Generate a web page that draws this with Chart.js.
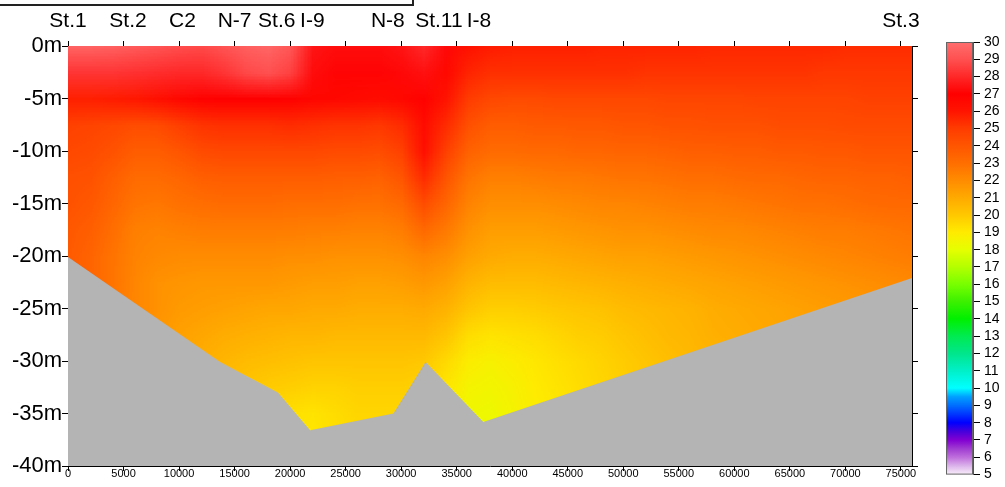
<!DOCTYPE html>
<html>
<head>
<meta charset="utf-8">
<script src="https://cdn.jsdelivr.net/npm/chart.js@4.4.1/dist/chart.umd.min.js"></script>
<style>
  html, body { margin: 0; padding: 0; background: #fff; }
  #wrap { position: relative; width: 1005px; height: 487px; }
  #main { position: absolute; left: 0; top: 0; width: 1005px; height: 487px; }
  #bar { position: absolute; left: 930px; top: 0; width: 75px; height: 487px; }
</style>
</head>
<body>
<div id="wrap">
  <div id="main"><canvas id="chart"></canvas></div>
  <div id="bar"><canvas id="cbar"></canvas></div>
</div>
<script>
// stations along the section (distance in m)
const stationNames = ['St.1', 'St.2', 'C2', 'N-7', 'St.6', 'I-9', 'N-8', 'St.11', 'I-8', 'St.3'];
const stationX = [0, 5400, 10300, 15000, 18800, 22000, 28800, 33400, 37000, 75000];

// distance ticks
const xTickVals = [0, 5000, 10000, 15000, 20000, 25000, 30000, 35000, 40000, 45000, 50000, 55000, 60000, 65000, 70000, 75000];

// sea bottom profile
const bottomX = [0, 13700, 18900, 21800, 29300, 32200, 37400, 76000];
const bottomY = [-20.1, -30.1, -33.0, -36.6, -35.0, -30.1, -35.8, -22.1];

// grid of temperature (degC): columns = distance, rows = depth
const gridX = [0, 2000, 4000, 6000, 8000, 10000, 12000, 14000, 16000, 18000, 20000, 22000, 24000, 26000,
  28000, 30000, 32000, 34000, 36000, 38000, 40000, 42000, 44000, 46000, 48000, 50000, 52000, 54000,
  56000, 58000, 60000, 62000, 64000, 66000, 68000, 70000, 72000, 74000, 76000];
const gridDepth = [0, 2.5, 5, 7.5, 10, 12.5, 15, 17.5, 20, 22.5, 25, 27.5, 30, 32.5, 35, 37.5];
const tempGrid = [
  [29.6,29.6,29.5,29.3,29.1,28.9,28.8,29.1,29.5,29.7,29.2,27.5,27.3,27.3,27.3,27.5,28.0,27.2,26.1,25.8,25.7,25.7,25.7,25.7,25.6,25.6,25.6,25.6,25.6,25.5,25.5,25.5,25.5,25.5,25.5,25.4,25.4,25.4,25.4],
  [28.3,28.3,28.3,28.2,28.1,28.0,28.0,28.3,28.8,29.0,28.6,27.3,27.1,27.1,27.1,27.2,27.4,26.6,25.6,25.3,25.3,25.3,25.3,25.3,25.3,25.3,25.2,25.2,25.2,25.2,25.2,25.2,25.2,25.2,25.1,25.1,25.1,25.1,25.1],
  [25.7,25.7,25.8,25.9,26.2,26.6,26.9,27.0,27.0,27.0,26.9,26.7,26.6,26.5,26.4,26.6,26.9,26.0,25.0,24.5,24.4,24.4,24.5,24.5,24.5,24.5,24.5,24.6,24.6,24.6,24.6,24.7,24.7,24.7,24.7,24.7,24.8,24.8,24.8],
  [24.8,24.7,24.5,24.3,24.4,24.9,25.2,25.3,25.3,25.3,25.4,25.3,25.2,25.2,25.1,25.4,26.4,25.4,24.2,23.7,23.7,23.8,23.8,23.9,23.9,24.0,24.0,24.1,24.1,24.2,24.2,24.2,24.3,24.3,24.3,24.4,24.4,24.4,24.4],
  [24.5,24.4,24.1,23.7,23.7,24.0,24.4,24.5,24.5,24.5,24.5,24.5,24.4,24.4,24.3,24.8,26.2,24.8,23.5,23.1,23.1,23.2,23.2,23.3,23.3,23.4,23.4,23.5,23.6,23.6,23.7,23.7,23.8,23.8,23.9,23.9,24.0,24.0,24.0],
  [24.2,24.1,23.6,23.1,23.1,23.3,23.6,23.7,23.7,23.7,23.7,23.7,23.6,23.6,23.5,24.0,25.4,24.0,22.8,22.4,22.4,22.5,22.6,22.6,22.7,22.8,22.8,22.9,23.0,23.0,23.1,23.2,23.2,23.3,23.4,23.4,23.5,23.5,23.6],
  [24.1,23.9,23.3,22.8,22.7,22.9,23.0,23.1,23.1,23.1,23.0,23.0,23.0,22.9,22.9,23.2,24.3,23.3,22.3,21.9,21.9,21.9,22.0,22.1,22.2,22.2,22.3,22.4,22.5,22.5,22.6,22.7,22.8,22.9,22.9,23.0,23.1,23.2,23.2],
  [23.9,23.6,23.0,22.4,22.3,22.4,22.5,22.5,22.5,22.5,22.5,22.4,22.4,22.3,22.3,22.5,23.2,22.6,21.8,21.4,21.4,21.4,21.5,21.6,21.7,21.8,21.8,21.9,22.0,22.1,22.1,22.2,22.3,22.4,22.5,22.5,22.6,22.7,22.8],
  [23.8,23.4,22.8,22.3,22.1,22.0,22.0,22.0,22.0,22.0,21.9,21.9,21.8,21.8,21.8,21.9,22.2,21.9,21.3,21.0,20.9,20.9,21.0,21.1,21.2,21.3,21.3,21.4,21.5,21.6,21.7,21.8,21.9,22.0,22.1,22.2,22.3,22.4,22.5],
  [23.7,23.3,22.8,22.2,21.8,21.7,21.6,21.6,21.6,21.6,21.5,21.4,21.4,21.3,21.3,21.4,21.6,21.3,20.7,20.4,20.4,20.4,20.5,20.6,20.7,20.8,20.9,21.0,21.1,21.2,21.3,21.4,21.5,21.6,21.7,21.8,21.9,22.0,22.1],
  [23.5,23.1,22.6,22.2,21.8,21.5,21.4,21.3,21.2,21.1,21.1,21.0,21.0,20.9,20.9,20.9,21.0,20.7,20.1,19.8,19.8,19.9,20.0,20.1,20.2,20.4,20.5,20.6,20.7,20.9,21.0,21.1,21.2,21.3,21.4,21.5,21.6,21.7,21.8],
  [23.3,22.9,22.4,22.0,21.6,21.3,21.1,20.9,20.8,20.7,20.6,20.6,20.5,20.5,20.5,20.5,20.5,20.1,19.4,19.2,19.3,19.4,19.6,19.8,19.9,20.1,20.3,20.5,20.6,20.8,20.9,21.0,21.1,21.2,21.3,21.4,21.5,21.6,21.7],
  [23.1,22.7,22.2,21.8,21.4,21.1,20.8,20.6,20.4,20.3,20.2,20.1,20.1,20.1,20.1,20.1,20.0,19.5,18.9,18.7,18.9,19.1,19.3,19.5,19.7,19.9,20.1,20.3,20.5,20.6,20.8,20.9,21.0,21.1,21.2,21.3,21.4,21.5,21.6],
  [23.0,22.6,22.1,21.6,21.2,20.9,20.6,20.3,20.1,19.9,19.8,19.7,19.7,19.8,19.8,19.8,19.7,19.1,18.6,18.5,18.7,19.0,19.2,19.4,19.6,19.8,20.0,20.2,20.4,20.5,20.7,20.8,20.9,21.0,21.1,21.2,21.3,21.4,21.5],
  [22.9,22.5,22.0,21.5,21.1,20.8,20.5,20.2,19.9,19.6,19.3,19.2,19.4,19.6,19.6,19.6,19.4,18.9,18.4,18.3,18.6,18.9,19.1,19.3,19.5,19.7,19.9,20.1,20.3,20.4,20.6,20.7,20.8,20.9,21.0,21.1,21.2,21.3,21.4],
  [22.8,22.4,21.9,21.4,21.0,20.7,20.4,20.1,19.8,19.5,19.2,19.1,19.3,19.5,19.5,19.5,19.3,18.8,18.3,18.2,18.5,18.8,19.0,19.2,19.4,19.6,19.8,20.0,20.2,20.3,20.5,20.6,20.7,20.8,20.9,21.0,21.1,21.2,21.3]
];

// colour scale
const cbVals = [5, 5.5, 6, 6.5, 7, 7.5, 8, 9, 9.5, 10, 11, 12, 13, 14, 15, 16, 17, 18, 19, 20, 21, 22, 23, 24, 25, 26, 27, 28, 29, 30];
const cbColors = ['#faf0fa', '#dcb4eb', '#be6edc', '#a03cd2', '#8200d2', '#4600dc', '#0000ff', '#006eff', '#00a0ff', '#00ffff',
  '#00f0c8', '#00e68c', '#00eb50', '#00f000', '#3cf000', '#78ff00', '#b4ff00', '#e6ff00', '#ffeb00', '#ffc800',
  '#ffaa00', '#ff8c00', '#ff6e00', '#ff5500', '#ff3c00', '#ff1400', '#ff0000', '#ff2828', '#ff5050', '#ff6e6e'];

const FONT = '"Liberation Sans", Arial, sans-serif';

function hexRgb(h) {
  return [parseInt(h.slice(1, 3), 16), parseInt(h.slice(3, 5), 16), parseInt(h.slice(5, 7), 16)];
}
const cbRgb = cbColors.map(hexRgb);

function tempColor(t) {
  if (t <= cbVals[0]) return cbRgb[0];
  for (let i = 1; i < cbVals.length; i++) {
    if (t <= cbVals[i]) {
      const f = (t - cbVals[i - 1]) / (cbVals[i] - cbVals[i - 1]);
      const a = cbRgb[i - 1], b = cbRgb[i];
      return [a[0] + (b[0] - a[0]) * f, a[1] + (b[1] - a[1]) * f, a[2] + (b[2] - a[2]) * f];
    }
  }
  return cbRgb[cbRgb.length - 1];
}

// temperature field, one image pixel per grid cell, stretched over the scales
const fieldPlugin = {
  id: 'field',
  beforeDatasetsDraw(chart) {
    const { ctx, chartArea, scales: { x, y } } = chart;
    const nx = gridX.length, ny = gridDepth.length;
    const off = document.createElement('canvas');
    off.width = nx; off.height = ny;
    const octx = off.getContext('2d');
    const img = octx.createImageData(nx, ny);
    for (let j = 0; j < ny; j++) {
      for (let i = 0; i < nx; i++) {
        const c = tempColor(tempGrid[j][i]);
        const k = (j * nx + i) * 4;
        img.data[k] = c[0]; img.data[k + 1] = c[1]; img.data[k + 2] = c[2]; img.data[k + 3] = 255;
      }
    }
    octx.putImageData(img, 0, 0);
    const dx = gridX[1] - gridX[0], dd = gridDepth[1] - gridDepth[0];
    const left = x.getPixelForValue(gridX[0] - dx / 2);
    const right = x.getPixelForValue(gridX[nx - 1] + dx / 2);
    const top = y.getPixelForValue(-(gridDepth[0] - dd / 2));
    const bottom = y.getPixelForValue(-(gridDepth[ny - 1] + dd / 2));
    ctx.save();
    ctx.beginPath();
    ctx.rect(chartArea.left, chartArea.top, chartArea.width, chartArea.height);
    ctx.clip();
    ctx.imageSmoothingEnabled = true;
    ctx.drawImage(off, left, top, right - left, bottom - top);
    ctx.restore();
  }
};

// the cut-off frame in the top left corner
const framePlugin = {
  id: 'frame',
  afterDraw(chart) {
    const ctx = chart.ctx;
    ctx.save();
    ctx.strokeStyle = '#222';
    ctx.lineWidth = 2;
    ctx.strokeRect(-5, -10, 418, 15);
    ctx.restore();
  }
};

const setDistTicks = s => { s.ticks = xTickVals.map(v => ({ value: v })); };

new Chart(document.getElementById('chart'), {
  type: 'line',
  data: {
    datasets: [{
      label: 'bottom',
      data: bottomX.map((x, i) => ({ x: x, y: bottomY[i] })),
      fill: 'start',
      backgroundColor: '#b4b4b4',
      borderWidth: 0,
      pointRadius: 0,
      tension: 0
    }]
  },
  options: {
    responsive: true,
    maintainAspectRatio: false,
    animation: false,
    layout: { padding: 0 },
    plugins: { legend: { display: false }, tooltip: { enabled: false } },
    scales: {
      x: {
        type: 'linear', position: 'bottom', min: 0, max: 76000,
        afterBuildTicks: setDistTicks,
        ticks: {
          autoSkip: false, maxRotation: 0, padding: -4,
          color: '#000', font: { family: FONT, size: 11 },
          callback: v => String(v)
        },
        grid: { drawOnChartArea: false, tickLength: 5, tickColor: '#000' },
        border: { color: '#000' },
        afterFit: s => { s.height = 21; }
      },
      xTop: {
        type: 'linear', position: 'top', min: 0, max: 76000, weight: 0,
        afterBuildTicks: setDistTicks,
        ticks: { display: false },
        grid: { drawOnChartArea: false, tickLength: 5, tickColor: '#000' },
        border: { color: '#000' },
        afterFit: s => { s.height = 5; }
      },
      xSt: {
        type: 'linear', position: 'top', min: 0, max: 76000, weight: 1,
        afterBuildTicks: s => { s.ticks = stationX.map(v => ({ value: v })); },
        ticks: {
          autoSkip: false, maxRotation: 0, padding: -1,
          color: '#000', font: { family: FONT, size: 21 },
          callback: (v, i) => stationNames[i]
        },
        grid: { display: false },
        border: { display: false },
        afterFit: s => { s.height = 41; }
      },
      y: {
        position: 'left', min: -40, max: 0,
        ticks: {
          stepSize: 5, padding: 0, color: '#000', font: { family: FONT, size: 22 },
          callback: v => v + 'm'
        },
        grid: { drawOnChartArea: false, tickLength: 6, tickColor: '#000' },
        border: { color: '#000' },
        afterFit: s => { s.width = 68; }
      },
      y2: {
        position: 'right', min: -40, max: 0,
        ticks: { stepSize: 5, display: false },
        grid: { drawOnChartArea: false, tickLength: 6, tickColor: '#000' },
        border: { color: '#000' },
        afterFit: s => { s.width = 93; }
      }
    }
  },
  plugins: [fieldPlugin, framePlugin]
});

// colour bar
const cbarPlugin = {
  id: 'cbarFill',
  beforeDatasetsDraw(chart) {
    const { ctx, chartArea: a, scales: { y } } = chart;
    const p0 = y.getPixelForValue(cbVals[0]);
    const p1 = y.getPixelForValue(cbVals[cbVals.length - 1]);
    const g = ctx.createLinearGradient(0, p0, 0, p1);
    cbVals.forEach((v, i) => g.addColorStop((y.getPixelForValue(v) - p0) / (p1 - p0), cbColors[i]));
    ctx.save();
    ctx.fillStyle = g;
    ctx.fillRect(a.left, p1, a.width, p0 - p1);
    ctx.strokeStyle = '#666';
    ctx.lineWidth = 1;
    ctx.strokeRect(a.left + 0.5, p1 + 0.5, a.width - 1, p0 - p1 - 1);
    ctx.restore();
  }
};

new Chart(document.getElementById('cbar'), {
  type: 'bar',
  data: { labels: [''], datasets: [] },
  options: {
    responsive: true,
    maintainAspectRatio: false,
    animation: false,
    layout: { padding: { left: 16, top: 42, bottom: 9, right: 0 } },
    plugins: { legend: { display: false }, tooltip: { enabled: false } },
    scales: {
      x: { display: false },
      y: {
        position: 'right', min: 5, max: 30,
        ticks: { stepSize: 1, autoSkip: false, padding: 4, color: '#000', font: { family: FONT, size: 14 } },
        grid: { drawOnChartArea: false, tickLength: 7, tickColor: '#000' },
        border: { color: '#555' },
        afterFit: s => { s.width = 32; }
      }
    }
  },
  plugins: [cbarPlugin]
});
</script>
</body>
</html>
